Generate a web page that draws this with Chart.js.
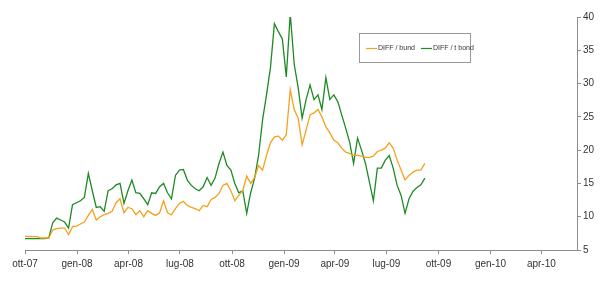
<!DOCTYPE html>
<html>
<head>
<meta charset="utf-8">
<script src="https://cdn.jsdelivr.net/npm/chart.js@4/dist/chart.umd.min.js"></script>
<style>
  html, body { margin: 0; padding: 0; background: #ffffff; }
  #wrap { width: 600px; height: 281px; position: relative; }
</style>
</head>
<body>
<div id="wrap"><canvas id="c" width="600" height="281"></canvas></div>
<script>
// ---- Data ----
const seriesNames = ["DIFF / bund", "DIFF / t bond"];

const dates = [
  "2007-10-01","2007-10-08","2007-10-15","2007-10-22","2007-10-29","2007-11-05","2007-11-12","2007-11-19","2007-11-26",
  "2007-12-03","2007-12-10","2007-12-17","2007-12-24","2007-12-31",
  "2008-01-07","2008-01-14","2008-01-21","2008-01-28","2008-02-04","2008-02-11","2008-02-18","2008-02-25",
  "2008-03-03","2008-03-10","2008-03-17","2008-03-24","2008-03-31","2008-04-07","2008-04-14","2008-04-21","2008-04-28",
  "2008-05-05","2008-05-12","2008-05-19","2008-05-26","2008-06-02","2008-06-09","2008-06-16","2008-06-23","2008-06-30",
  "2008-07-07","2008-07-14","2008-07-21","2008-07-28","2008-08-04","2008-08-11","2008-08-18","2008-08-25",
  "2008-09-01","2008-09-08","2008-09-15","2008-09-22","2008-09-29","2008-10-06","2008-10-13","2008-10-20","2008-10-27",
  "2008-11-03","2008-11-10","2008-11-17","2008-11-24","2008-12-01","2008-12-08","2008-12-15","2008-12-22","2008-12-29",
  "2009-01-05","2009-01-12","2009-01-19","2009-01-26","2009-02-02","2009-02-09","2009-02-16","2009-02-23",
  "2009-03-02","2009-03-09","2009-03-16","2009-03-23","2009-03-30","2009-04-06","2009-04-13","2009-04-20","2009-04-27",
  "2009-05-04","2009-05-11","2009-05-18","2009-05-25","2009-06-01","2009-06-08","2009-06-15","2009-06-22","2009-06-29",
  "2009-07-06","2009-07-13","2009-07-20","2009-07-27","2009-08-03","2009-08-10","2009-08-17","2009-08-24","2009-08-31",
  "2009-09-07"
];

const bund = [
  7.1,7.0,7.0,7.0,6.8,6.8,6.8,8.0,8.2,8.3,8.3,7.3,8.5,8.6,8.9,9.2,10.2,11.1,9.5,10.0,
  10.3,10.5,10.8,12.1,12.7,10.6,11.4,11.2,10.3,10.9,10.0,10.9,10.5,10.2,10.6,12.4,10.6,10.3,11.2,12.0,
  12.3,11.7,11.4,11.2,10.9,11.7,11.5,12.6,12.9,13.5,14.7,15.0,13.9,12.4,13.2,13.9,16.1,15.0,15.9,17.7,
  17.0,19.2,21.1,22.0,22.1,21.5,22.3,29.1,26.1,24.8,20.8,23.0,25.3,25.6,26.1,25.0,23.5,22.6,21.5,21.1,
  20.3,19.7,19.5,19.2,19.2,19.1,18.9,18.9,19.1,19.8,20.0,20.3,21.1,20.3,18.5,17.0,15.5,16.2,16.7,17.0,
  17.0,18.0
];

const tbond = [
  6.7,6.7,6.7,6.7,6.7,6.7,6.8,9.1,9.8,9.5,9.2,8.3,11.8,12.1,12.4,12.9,16.5,13.9,11.4,11.5,
  10.8,13.9,14.2,14.8,15.0,12.0,13.9,15.5,13.6,13.5,12.7,11.8,13.6,13.5,14.5,15.0,13.6,12.7,16.2,17.0,
  17.1,15.5,14.7,14.2,13.9,14.5,15.9,14.7,15.8,18.0,19.7,17.7,17.0,15.0,13.6,13.9,10.5,13.6,15.8,19.2,
  24.5,28.3,32.4,39.0,37.8,36.7,31.0,40.5,32.9,29.4,24.8,27.6,29.8,27.6,28.3,26.1,30.9,27.6,28.3,27.3,
  25.3,23.3,21.2,18.0,21.8,20.0,18.0,15.2,12.4,17.3,17.3,18.5,19.2,17.3,14.7,13.2,10.5,12.7,13.8,14.4,
  14.8,15.8
];

const tickDates = ["2007-10-01","2008-01-01","2008-04-01","2008-07-01","2008-10-01","2009-01-01",
                   "2009-04-01","2009-07-01","2009-10-01","2010-01-01","2010-04-01"];
const tickLabels = ["ott-07","gen-08","apr-08","lug-08","ott-08","gen-09","apr-09","lug-09","ott-09","gen-10","apr-10"];
const axisStart = "2007-10-01";
const axisEnd = "2010-06-03";
const yTicks = [5, 10, 15, 20, 25, 30, 35, 40];

// ---- helpers ----
const DAY = 86400000;
const t0 = Date.parse(axisStart + "T00:00:00Z");
const toDay = s => Math.round((Date.parse(s + "T00:00:00Z") - t0) / DAY);
const tickDays = tickDates.map(toDay);

const bundPts = dates.map((d, i) => ({ x: toDay(d), y: bund[i] }));
const tbondPts = dates.map((d, i) => ({ x: toDay(d), y: tbond[i] }));

const COL_BUND = "#F4A11E";
const COL_TBOND = "#1F8A24";
const AXIS = "#8c8c8c";
const FONT = "'Liberation Sans', Arial, sans-serif";

const legendBox = {
  id: "legendBox",
  afterDraw(chart) {
    const ctx = chart.ctx;
    const area = chart.chartArea;
    const xs = chart.scales.x, ys = chart.scales.y;
    // place legend relative to the chart area
    const bx = area.left + (area.right - area.left) * 0.605;
    const by = area.top + 16;
    const bw = 111, bh = 29;
    ctx.save();
    ctx.strokeStyle = "#9a9a9a";
    ctx.lineWidth = 1;
    ctx.strokeRect(Math.round(bx) + 0.5, Math.round(by) + 0.5, bw, bh);
    ctx.font = "7px " + FONT;
    ctx.textBaseline = "middle";
    ctx.fillStyle = "#333";
    const cy = Math.round(by + bh / 2) + 0.5;
    const items = [
      { c: COL_BUND, t: seriesNames[0], x: bx + 7 },
      { c: COL_TBOND, t: seriesNames[1], x: bx + 62 }
    ];
    items.forEach(it => {
      ctx.strokeStyle = it.c;
      ctx.lineWidth = 1.2;
      ctx.beginPath();
      ctx.moveTo(it.x, cy);
      ctx.lineTo(it.x + 11, cy);
      ctx.stroke();
      ctx.fillText(it.t, it.x + 12, cy);
    });
    ctx.restore();
  }
};

new Chart(document.getElementById("c"), {
  type: "line",
  data: {
    datasets: [
      { label: seriesNames[0], data: bundPts, borderColor: COL_BUND, backgroundColor: COL_BUND,
        borderWidth: 1.3, pointRadius: 0, tension: 0, fill: false },
      { label: seriesNames[1], data: tbondPts, borderColor: COL_TBOND, backgroundColor: COL_TBOND,
        borderWidth: 1.3, pointRadius: 0, tension: 0, fill: false }
    ]
  },
  options: {
    responsive: false,
    animation: false,
    devicePixelRatio: 1,
    layout: { padding: { left: 25, top: 17, right: 0, bottom: 0 } },
    plugins: { legend: { display: false }, tooltip: { enabled: false } },
    scales: {
      x: {
        type: "linear",
        min: 0,
        max: toDay(axisEnd),
        afterBuildTicks(scale) { scale.ticks = tickDays.map(v => ({ value: v })); },
        afterFit(scale) { scale.height = 31; },
        grid: { drawOnChartArea: false, drawTicks: true, tickLength: 4, color: AXIS, lineWidth: 1 },
        border: { display: true, color: AXIS, width: 1 },
        ticks: {
          autoSkip: false, maxRotation: 0, padding: 4, color: "#333",
          font: { family: FONT, size: 10 },
          callback(v) { const i = tickDays.indexOf(v); return i >= 0 ? tickLabels[i] : ""; }
        }
      },
      y: {
        position: "right",
        min: yTicks[0],
        max: yTicks[yTicks.length - 1],
        afterBuildTicks(scale) { scale.ticks = yTicks.map(v => ({ value: v })); },
        afterFit(scale) { scale.width = 23; },
        grid: { drawOnChartArea: false, drawTicks: true, tickLength: 4, color: AXIS, lineWidth: 1 },
        border: { display: true, color: AXIS, width: 1 },
        ticks: { padding: 2, color: "#333", font: { family: FONT, size: 10 } }
      }
    }
  },
  plugins: [legendBox]
});
</script>
</body>
</html>
